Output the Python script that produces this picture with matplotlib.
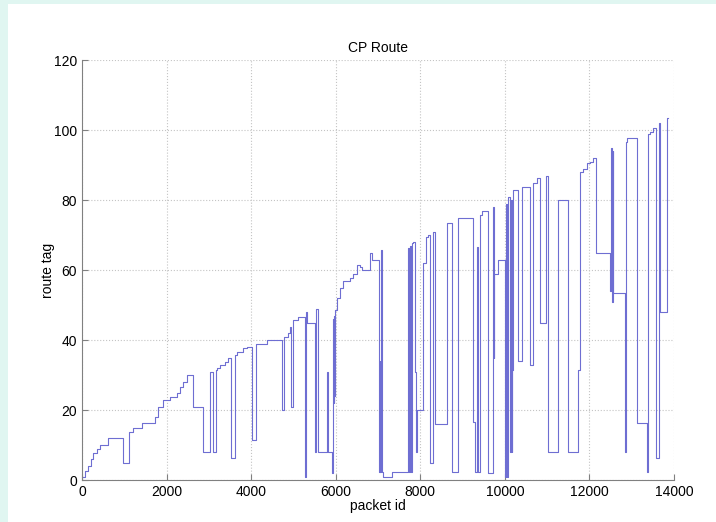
import matplotlib
matplotlib.use('Agg')
import matplotlib.pyplot as plt
from matplotlib.patches import Rectangle

plt.rcParams['font.family'] = ['Liberation Sans', 'DejaVu Sans']

# step start (packet id) and route tag held from there on
packet_id = [0, 71, 142, 213, 260, 355, 426, 615, 970, 1112, 1206, 1419, 1726, 1797,
             1916, 2081, 2247, 2318, 2389, 2483, 2625, 2862, 3027, 3098, 3169, 3193,
             3264, 3382, 3453, 3524, 3618, 3666, 3808, 3902, 4020, 4115, 4375, 4730,
             4777, 4872, 4919, 4943, 4990, 5108, 5274, 5298, 5321, 5510, 5534, 5581,
             5794, 5818, 5912, 5936, 5948, 5960, 5972, 5983, 6031, 6102, 6173, 6338,
             6409, 6504, 6575, 6622, 6811, 6858, 7024, 7036, 7048, 7060, 7071, 7095,
             7119, 7332, 7710, 7733, 7757, 7781, 7804, 7828, 7875, 7899, 7923, 8065,
             8135, 8183, 8230, 8301, 8348, 8632, 8750, 8892, 9247, 9294, 9342, 9365,
             9413, 9460, 9602, 9720, 9732, 9744, 9838, 10004, 10028, 10051, 10075,
             10122, 10146, 10158, 10169, 10193, 10311, 10406, 10595, 10666, 10761,
             10832, 10974, 11021, 11257, 11494, 11730, 11777, 11849, 11943, 12014,
             12085, 12156, 12487, 12511, 12535, 12546, 12558, 12842, 12866, 12889,
             13126, 13362, 13386, 13433, 13504, 13575, 13634, 13670, 13835, 13850]
route_tag = [1, 2.5, 4, 6, 7.7, 9, 10, 12, 5, 13.7, 15, 16.3, 18, 21,
             23, 23.7, 25, 26.6, 28, 30, 21, 8, 31, 8, 31.4, 32,
             33, 33.7, 35, 6.3, 35.7, 36.6, 37.7, 38, 11.4, 39, 40, 20,
             41, 42, 43.7, 21, 45.7, 46.6, 1, 48, 45, 8, 49, 8,
             31, 8, 2, 46, 22, 47, 24, 48.6, 52, 55, 57, 57.7,
             59, 61.4, 61, 60, 65, 62.8, 2.3, 34, 2.3, 34, 65.7, 2.3,
             1, 2.3, 66.3, 2.3, 67, 2.3, 67.7, 68, 31, 8, 20, 62,
             69.5, 70, 5, 71, 16, 73.4, 2.3, 75, 16.6, 2.3, 66.6, 2.3,
             75.7, 77, 2, 78, 35, 59, 63, 1, 79, 1, 81,
             8, 80, 8, 31.4, 83, 34, 83.7, 33, 85, 86.3,
             45, 87, 8, 80, 8, 31.4, 88, 89, 90.6, 91,
             92, 65, 54, 95, 51, 94, 53.4, 8, 96.6, 97.7,
             16.3, 2.3, 99, 99.4, 100.6, 6.3, 102, 48, 103.4, 103.4]

x_ticks = [0, 2000, 4000, 6000, 8000, 10000, 12000, 14000]
y_ticks = [0, 20, 40, 60, 80, 100, 120]

fig = plt.figure(figsize=(7.16, 5.22), dpi=100, facecolor='#e0f6f1')
fig.patches.append(Rectangle((8 / 716, 0), 1, 1 - 4 / 522, transform=fig.transFigure,
                             facecolor='white', edgecolor='none', zorder=-10))

ax = fig.add_axes([82 / 716, 42 / 522, 592 / 716, 420 / 522])
ax.set_zorder(5)
ax.plot(packet_id, route_tag, drawstyle='steps-post', color='#6e6ed2', linewidth=0.8)

ax.set_xlim(0, 14000)
ax.set_ylim(0, 120)
ax.set_xticks(x_ticks)
ax.set_yticks(y_ticks)
ax.grid(True, linestyle=':', color='#c4c4c4', linewidth=0.8)
for side in ('top', 'right'):
    ax.spines[side].set_visible(False)
for side in ('left', 'bottom'):
    ax.spines[side].set_color('#808080')
ax.tick_params(direction='in', length=4, colors='#808080', labelcolor='black', labelsize=10)

ax.set_title('CP Route', fontsize=10, pad=6)
ax.set_xlabel('packet id', fontsize=10, labelpad=0)
ax.set_ylabel('route tag', fontsize=10, labelpad=-1)

plt.savefig('out.png', dpi=100, facecolor=fig.get_facecolor())
